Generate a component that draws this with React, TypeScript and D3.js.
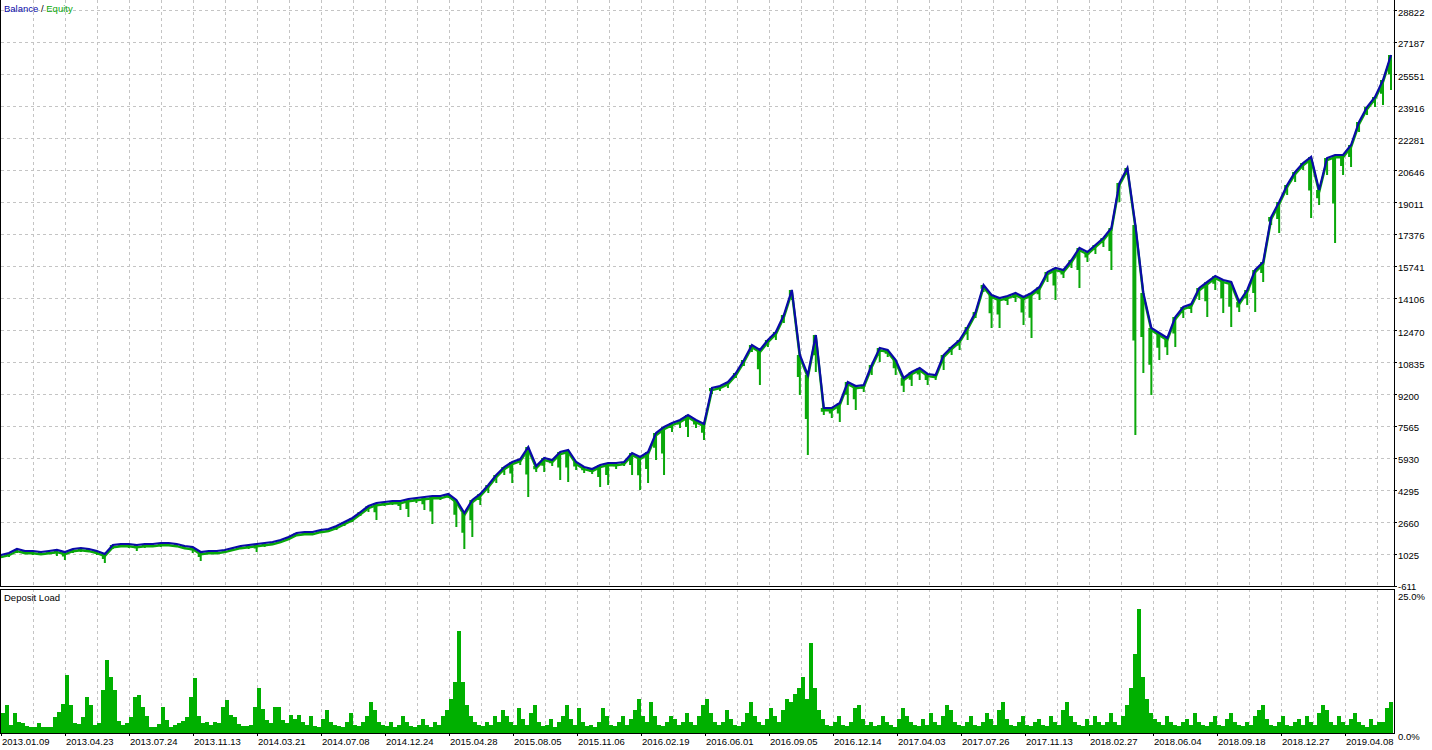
import React from 'react';
import * as d3 from 'd3';

const balance = [973,1075,1280,1178,1178,1126,1178,1229,1126,1280,1331,1280,1178,1024,1484,1535,1535,1484,1535,1535,1586,1586,1535,1433,1382,1126,1178,1178,1229,1331,1433,1484,1535,1586,1637,1740,1893,2097,2148,2148,2251,2302,2455,2659,2864,3170,3477,3630,3681,3733,3733,3835,3886,3937,3988,3988,4090,3784,3119,3784,4090,4550,5061,5470,5725,5879,6492,5521,5930,5828,6236,6339,5725,5470,5368,5572,5674,5674,5725,6185,5981,6236,7207,7514,7718,7872,8127,7872,7667,9507,9609,9813,10273,10938,11704,11449,11960,12368,13237,14515,11193,10171,12215,8485,8485,8740,9813,9609,9660,10682,11551,11449,10938,10018,10324,10529,10222,10171,11193,11602,11960,12624,13390,14770,14259,14106,14208,14361,14157,14361,14668,15434,15639,15537,16048,16661,16456,16814,17172,17683,19982,20749,17836,14361,12573,12317,12062,13135,13646,13799,14617,14923,15230,15026,14923,13901,14515,15537,15945,18245,19011,19880,20544,21004,21311,19625,21260,21413,21413,21924,23099,23866,24377,25246,26523];

const equityLow = [820,871,1076,1025,973,973,1025,922,718,1076,1127,1127,973,565,1280,1382,1331,1178,1331,1382,1382,1433,1382,1280,1076,667,1025,1025,1076,1178,1280,1280,1127,1382,1484,1587,1740,1944,1995,1995,2098,2149,2251,2455,2660,2966,3171,2762,3477,3528,3273,2915,3631,3273,2558,3784,3886,2404,1280,1893,3528,4142,4653,5061,4653,5572,3937,5215,5215,5521,4806,4704,5317,5164,5113,4448,4550,5368,5521,5061,4295,4653,5828,5061,7259,7463,7003,7463,6850,9201,9354,9507,10018,10631,11347,9661,11602,11960,12829,14004,9150,6084,10325,8128,7974,7770,8639,8383,9303,10172,10836,11091,10172,9303,9609,9916,9661,9916,10427,11194,11449,11960,13084,14413,12573,12573,13749,13902,12727,12062,14004,14924,14004,15128,15639,14617,15946,16355,16712,15537,19012,20391,7105,10274,9150,10938,11194,11602,13084,13340,14004,13135,14515,13340,12624,13391,13749,13391,14924,17836,17428,19369,20034,20647,18194,18858,20391,16917,20391,20800,22589,23457,23866,23968,24735];

const depositLoad = [
3.5,4.9,1.4,3.5,2.0,1.8,1.2,1.0,1.0,1.8,
1.0,1.1,1.0,2.8,3.8,5.2,10.3,5.0,1.8,1.6,
2.8,6.4,5.0,1.5,1.8,7.6,12.9,9.9,7.6,2.2,
1.4,1.8,2.8,6.4,6.8,4.6,3.0,1.0,1.1,1.6,
4.6,2.3,1.1,1.5,1.8,2.2,2.8,6.4,9.7,3.0,
1.8,2.0,1.5,2.0,1.8,4.6,5.9,3.2,2.8,1.6,
1.3,1.2,1.4,4.6,8.0,4.2,2.3,1.8,4.6,4.6,
2.3,1.8,3.2,2.5,3.2,
2.0,1.5,3.0,1.2,1.0,2.5,4.0,2.0,1.5,1.2,
1.0,2.0,3.5,1.5,1.2,2.0,3.0,5.5,4.0,2.0,
1.5,1.2,2.0,1.0,1.5,3.0,2.0,1.2,1.0,1.5,
2.5,1.5,1.0,2.0,1.5,3.0,4.0,6.0,9.0,18.0,
9.0,5.0,3.0,2.0,1.5,1.2,2.0,1.5,3.0,2.0,
4.0,3.0,2.0,1.5,4.5,2.5,1.5,3.5,5.0,2.0,
1.2,1.5,2.5,1.0,2.0,3.0,5.0,2.5,1.5,4.5,
2.0,1.2,1.5,1.0,2.0,4.5,3.0,1.5,1.2,2.0,
3.0,1.5,2.5,4.0,6.0,3.0,2.0,5.5,3.0,1.5,
1.2,2.0,3.0,2.5,1.5,2.0,3.5,2.0,1.5,3.0,
5.0,6.0,3.5,2.0,1.5,2.0,4.0,2.5,1.5,1.2,
2.0,3.5,5.5,3.0,2.0,1.5,2.5,4.5,3.0,2.0,
4.0,6.0,5.5,7.0,8.0,10.0,6.0,16.0,8.0,4.0,
2.5,1.5,1.2,2.0,3.0,1.5,1.2,2.0,4.5,5.0,
2.5,1.5,2.0,1.2,1.5,3.0,2.0,1.5,1.0,2.5,
4.5,3.0,2.0,1.5,1.2,2.5,1.5,3.5,2.0,1.5,
3.0,5.0,4.0,2.0,1.5,1.2,2.0,3.0,1.5,1.2,
2.0,3.5,2.5,1.5,4.0,5.5,2.5,1.5,1.2,2.0,
3.0,1.5,1.2,2.0,2.5,1.5,1.2,3.0,2.0,1.5,
4.0,5.5,3.0,2.0,1.5,1.2,2.5,1.5,3.0,2.0,
1.5,2.0,3.5,2.0,1.5,3.0,5.0,8.0,14.0,22.0,
10.0,6.0,3.5,2.5,2.0,1.5,3.0,2.0,1.5,1.2,
2.0,2.5,1.5,3.5,2.0,1.5,1.2,2.0,3.0,1.5,
1.2,2.5,3.5,2.0,1.5,1.2,2.0,1.5,3.0,4.0,
5.0,2.5,1.5,1.2,2.0,3.0,1.5,1.2,2.0,2.5,
1.5,3.0,2.0,1.5,3.5,5.0,4.0,2.0,1.5,3.0,
2.0,1.5,2.5,3.5,2.0,1.5,1.0,2.5,1.5,2.0,
2.0,4.5,5.5
];

const yTicks = [28822,27187,25551,23916,22281,20646,19011,17376,15741,14106,12470,10835,9200,7565,5930,4295,2660,1025,-611];
const dateLabels = ['2013.01.09','2013.04.23','2013.07.24','2013.11.13','2014.03.21','2014.07.08','2014.12.24','2015.04.28','2015.08.05','2015.11.06','2016.02.19','2016.06.01','2016.09.05','2016.12.14','2017.04.03','2017.07.26','2017.11.13','2018.02.27','2018.06.04','2018.09.18','2018.12.27','2019.04.08'];
const loadTicks = [25, 0];

const FONT = '"Liberation Sans", Arial, sans-serif';
const FS = 9.5;
const BLUE = '#0a0aa8';
const GREEN = '#0aa80a';
const LOADGREEN = '#00b000';
const GRID = '#c4c4c4';

export default function App() {
  const axisX = 1394;
  const mainBottom = 586;
  const subTop = 589;
  const subBottom = 733;

  const x = d3.scaleLinear().domain([0, balance.length - 1]).range([1, 1391]);
  const y = d3.scaleLinear().domain([-611, 28822]).range([mainBottom, 10]);
  const xl = d3.scaleLinear().domain([0, depositLoad.length - 1]).range([1, 1389]);
  const yl = d3.scaleLinear().domain([0, 25]).range([subBottom, 592]);
  const xLab = d3.scaleLinear().domain([0, dateLabels.length - 1]).range([1, 1345]);
  const gridXs = d3.range(1, 44).map((k) => 1 + 32 * k).filter((v) => v < axisX);

  const balLine = d3.line<number>().x((_, i) => x(i)).y((d) => y(d))(balance) || '';

  const eqBand = d3.line<number>().x((_, i) => x(i)).y((d) => y(d) + 2.2)(balance) || '';
  let spikes = '';
  balance.forEach((b, i) => {
    const xi = x(i);
    const yb = y(b);
    const ylo = y(equityLow[i]);
    if (ylo - yb > 2) {
      spikes += 'M' + (xi - 2) + ',' + yb + 'L' + (xi - 2) + ',' + (yb + (ylo - yb) * 0.55) + 'M' + xi + ',' + yb + 'L' + xi + ',' + ylo;
    }
  });

  const barW = xl(1) - xl(0);

  return (
    <svg width={1432} height={750} style={{ position: 'absolute', left: 0, top: 0, background: '#fff' }}>
      <rect x={0} y={0} width={1432} height={750} fill="#fff" />
      <g stroke={GRID} strokeDasharray="3,3" shapeRendering="crispEdges">
        {yTicks.slice(0, -1).map((t) => (
          <line key={'h' + t} x1={1} x2={axisX} y1={Math.round(y(t)) + 0.5} y2={Math.round(y(t)) + 0.5} />
        ))}
        {gridXs.map((gx) => (
          <line key={'v' + gx} x1={gx + 0.5} x2={gx + 0.5} y1={0} y2={mainBottom} />
        ))}
        {gridXs.map((gx) => (
          <line key={'vs' + gx} x1={gx + 0.5} x2={gx + 0.5} y1={subTop} y2={subBottom} />
        ))}
      </g>
      <path d={spikes} fill="none" stroke={GREEN} strokeWidth={2} />
      <path d={eqBand} fill="none" stroke={GREEN} strokeWidth={2.4} />
      <path d={balLine} fill="none" stroke={BLUE} strokeWidth={2.2} strokeLinejoin="miter" />
      <g fill={LOADGREEN} shapeRendering="crispEdges">
        {depositLoad.map((v, i) => (
          <rect key={i} x={xl(i)} y={yl(v)} width={barW + 0.3} height={subBottom - yl(v)} />
        ))}
      </g>
      <g stroke="#000" shapeRendering="crispEdges" fill="none">
        <line x1={0.5} x2={0.5} y1={0} y2={mainBottom} />
        <line x1={0} x2={axisX + 1} y1={mainBottom + 0.5} y2={mainBottom + 0.5} />
        <line x1={axisX + 0.5} x2={axisX + 0.5} y1={0} y2={mainBottom + 1} />
        <line x1={0} x2={axisX + 1} y1={subTop + 0.5} y2={subTop + 0.5} />
        <line x1={0.5} x2={0.5} y1={subTop} y2={subBottom + 1} />
        <line x1={axisX + 0.5} x2={axisX + 0.5} y1={subTop} y2={subBottom + 1} />
        <line x1={0} x2={axisX + 1} y1={subBottom + 0.5} y2={subBottom + 0.5} />
        {yTicks.map((t) => (
          <line key={'t' + t} x1={axisX} x2={axisX + 3} y1={Math.round(y(t)) + 0.5} y2={Math.round(y(t)) + 0.5} />
        ))}
        {dateLabels.map((d, i) => (
          <line key={'xt' + d} x1={Math.round(xLab(i)) + 0.5} x2={Math.round(xLab(i)) + 0.5} y1={subBottom} y2={subBottom + 3} />
        ))}
      </g>
      <g fontFamily={FONT} fontSize={FS} fill="#000">
        {yTicks.map((t) => (
          <text key={'yl' + t} x={axisX + 4} y={y(t) + (t === -611 ? 3.5 : 5.5)}>{String(t)}</text>
        ))}
        {loadTicks.map((t) => (
          <text key={'ll' + t} x={axisX + 4} y={t === 0 ? subBottom + 7 : subTop + 11}>{t.toFixed(1) + '%'}</text>
        ))}
        {dateLabels.map((d, i) => (
          <text key={'dl' + d} x={xLab(i) + 1} y={745}>{d}</text>
        ))}
        <text x={4} y={12}>
          <tspan fill={BLUE}>Balance</tspan>
          <tspan fill="#000"> / </tspan>
          <tspan fill={GREEN}>Equity</tspan>
        </text>
        <text x={4} y={600.5}>Deposit Load</text>
      </g>
    </svg>
  );
}
